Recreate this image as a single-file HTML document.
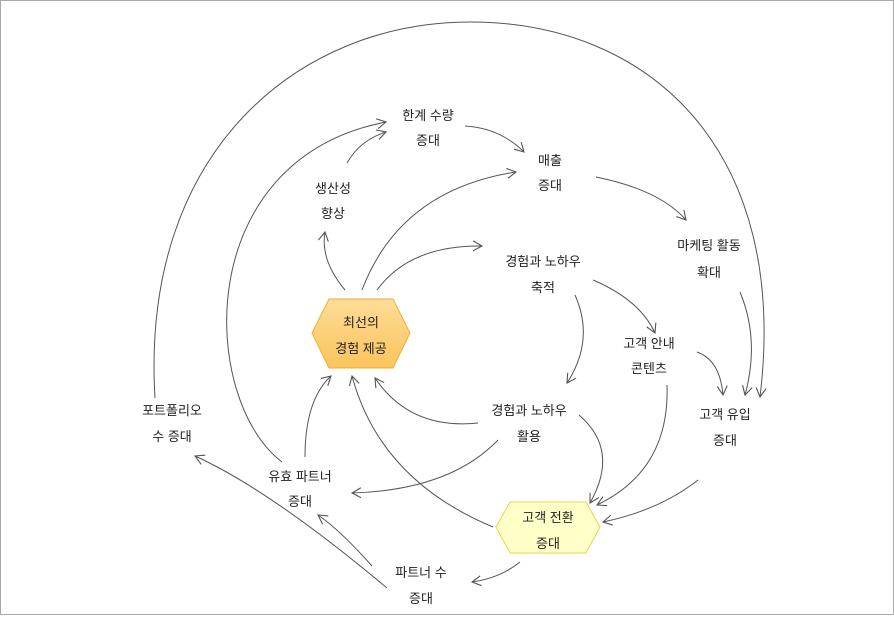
<!DOCTYPE html>
<html><head><meta charset="utf-8"><style>
html,body{margin:0;padding:0;background:#fff}
svg text{font-family:"Liberation Sans","Noto Sans CJK KR",sans-serif;font-size:13px;fill:#222;text-anchor:middle}
</style></head><body>
<svg width="894" height="615" viewBox="0 0 894 615" xmlns="http://www.w3.org/2000/svg">
<defs>
<marker id="a" markerWidth="14" markerHeight="14" refX="10" refY="6" orient="auto" markerUnits="userSpaceOnUse">
<path d="M1,1 L10,6 L1,11" fill="none" stroke="#555" stroke-width="1.1"/>
</marker>
<linearGradient id="g" x1="0" y1="0" x2="0" y2="1"><stop offset="0" stop-color="#fedc98"/><stop offset="1" stop-color="#fbc45c"/></linearGradient>
</defs>
<rect x="0.5" y="0.5" width="893" height="614" fill="#fff" stroke="#aaa"/>
<g fill="none" stroke="#555" stroke-width="1" marker-end="url(#a)">
<path d="M347,163 Q360,140 386,132"/>
<path d="M465,126 Q500,128 524,152"/>
<path d="M596,177 Q660,190 686,220"/>
<path d="M740,292 Q760,340 745,395"/>
<path d="M155,398 C140,150 300,22 470,22 C650,22 790,150 760,397"/>
<path d="M345,290 Q320,260 325,232"/>
<path d="M362,290 Q400,190 516,172"/>
<path d="M377,290 Q410,245 482,246"/>
<path d="M575,295 Q595,340 567,383"/>
<path d="M593,280 Q640,300 655,333"/>
<path d="M697,352 Q720,360 723,395"/>
<path d="M667,385 Q670,470 597,505"/>
<path d="M698,480 Q660,510 603,522"/>
<path d="M579,415 Q620,450 590,503"/>
<path d="M478,423 Q410,430 375,378"/>
<path d="M498,440 Q450,490 352,493"/>
<path d="M493,527 Q380,480 352,376"/>
<path d="M387,588 Q270,490 195,456"/>
<path d="M520,562 Q500,578 472,582"/>
<path d="M372,566 Q340,530 318,515"/>
<path d="M305,457 Q305,400 331,376"/>
<path d="M282,462 C200,400 190,160 386,122"/>
</g>
<polygon points="312,333 329,299 393,299 410,333 393,368 329,368" fill="url(#g)" stroke="#f0b030"/>
<polygon points="496,527 510,502 586,502 600,527 586,553 510,553" fill="#ffffc8" stroke="#f2d24a"/>
<text x="428" y="120">한계 수량</text><text x="428" y="145">증대</text>
<text x="550" y="165">매출</text><text x="550" y="190">증대</text>
<text x="333" y="193">생산성</text><text x="333" y="218">향상</text>
<text x="709" y="250">마케팅 활동</text><text x="709" y="277">확대</text>
<text x="543" y="266">경험과 노하우</text><text x="543" y="292">축적</text>
<text x="361" y="327">최선의</text><text x="361" y="353">경험 제공</text>
<text x="649" y="348">고객 안내</text><text x="649" y="373">콘텐츠</text>
<text x="172" y="415">포트폴리오</text><text x="172" y="441">수 증대</text>
<text x="529" y="415">경험과 노하우</text><text x="529" y="441">활용</text>
<text x="725" y="419">고객 유입</text><text x="725" y="445">증대</text>
<text x="300" y="481">유효 파트너</text><text x="300" y="506">증대</text>
<text x="548" y="522">고객 전환</text><text x="548" y="548">증대</text>
<text x="421" y="577">파트너 수</text><text x="421" y="603">증대</text>
</svg>
</body></html>
